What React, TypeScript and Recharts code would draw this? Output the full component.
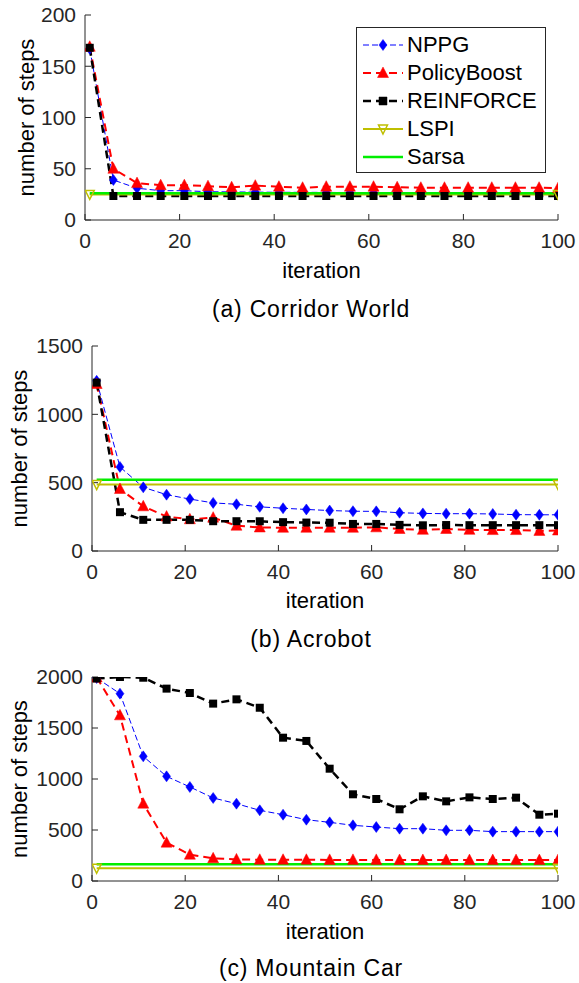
import React from 'react';
import { LineChart, Line, XAxis, YAxis, Legend } from 'recharts';

// iterations where the learners were evaluated
const iters = [1, 6, 11, 16, 21, 26, 31, 36, 41, 46, 51, 56, 61, 66, 71, 76, 81, 86, 91, 96, 100];
// LSPI / Sarsa are flat reference lines
const flatIters = [1, 100];
const xTicks = [0, 20, 40, 60, 80, 100];

// (a) Corridor World
const corridorNppg = [167, 39, 31, 28.6, 28.6, 27.6, 27.4, 27.2, 27, 27, 26.9, 26.8, 26.8, 26.7, 26.7, 26.7, 26.7, 26.6, 26.6, 26.6, 26.6];
const corridorBoost = [169, 50, 36, 34, 34, 33, 32, 33.5, 32.5, 31.5, 32.5, 32.5, 32.5, 32, 31.5, 31.5, 31.5, 31.5, 31.5, 31.5, 31];
const corridorReinforce = [168, 23.4, 23.4, 23.4, 23.4, 23.4, 23.4, 23.4, 23.4, 23.4, 23.4, 23.4, 23.4, 23.4, 23.4, 23.4, 23.4, 23.4, 23.4, 23.4, 23.4];
const corridorLspi = [25, 25];
const corridorSarsa = [26, 26];
const corridorTicks = [0, 50, 100, 150, 200];

// (b) Acrobot
const acrobotNppg = [1245, 615, 466, 412, 380, 352, 342, 323, 313, 304, 296, 291, 290, 280, 275, 273, 273, 271, 266, 265, 265];
const acrobotBoost = [1222, 454, 327, 252, 232, 244, 185, 172, 170, 170, 170, 170, 173, 161, 155, 161, 155, 153, 153, 147, 150];
const acrobotReinforce = [1232, 284, 228, 228, 228, 218, 218, 217, 211, 208, 207, 198, 198, 191, 188, 190, 189, 189, 189, 189, 189];
const acrobotLspi = [486, 486];
const acrobotSarsa = [522, 522];
const acrobotTicks = [0, 500, 1000, 1500];

// (c) Mountain Car
const carNppg = [1990, 1837, 1222, 1026, 922, 814, 758, 693, 650, 601, 575, 546, 529, 513, 513, 497, 497, 484, 484, 484, 484];
const carBoost = [1995, 1624, 758, 376, 258, 222, 212, 208, 208, 208, 207, 207, 207, 206, 206, 206, 205, 205, 205, 205, 205];
const carReinforce = [1985, 2000, 1993, 1886, 1843, 1739, 1781, 1699, 1405, 1373, 1101, 850, 804, 703, 830, 781, 820, 804, 817, 650, 660];
const carLspi = [125, 125];
const carSarsa = [165, 165];
const carTicks = [0, 500, 1000, 1500, 2000];

// no serif face is available in the sandbox, sizes tuned to the original text widths
const FONT = '"Liberation Sans", Arial, sans-serif';
const AXIS = '#262626';
const BLUE = '#0000ff';
const RED = '#ff0000';
const OLIVE = '#bfbf00';
const GREEN = '#00ee00';

type Row = { it: number; nppg: number; boost: number; reinforce: number };

const makeRows = (nppg: number[], boost: number[], reinforce: number[]): Row[] =>
  iters.map((it, i) => ({ it, nppg: nppg[i], boost: boost[i], reinforce: reinforce[i] }));

const flat = (vals: number[]) => flatIters.map((it, i) => ({ it, v: vals[i] }));

const diamond = (cx: number, cy: number) =>
  `M${cx},${cy - 5.5}L${cx + 4},${cy}L${cx},${cy + 5.5}L${cx - 4},${cy}Z`;
const triUp = (cx: number, cy: number) =>
  `M${cx},${cy - 6}L${cx + 5.5},${cy + 4.5}L${cx - 5.5},${cy + 4.5}Z`;
const triDown = (cx: number, cy: number) =>
  `M${cx},${cy + 5}L${cx + 4.5},${cy - 4}L${cx - 4.5},${cy - 4}Z`;
const square = (cx: number, cy: number) =>
  `M${cx - 4},${cy - 4}h8v8h-8Z`;

const nppgDot = (p: any) => <path key={`n${p.index}`} d={diamond(p.cx, p.cy)} fill={BLUE} stroke={BLUE} strokeWidth={0.5} />;
const boostDot = (p: any) => <path key={`b${p.index}`} d={triUp(p.cx, p.cy)} fill={RED} stroke={RED} strokeWidth={0.5} />;
const reinforceDot = (p: any) => <path key={`r${p.index}`} d={square(p.cx, p.cy)} fill="#000" />;
const lspiDot = (p: any) => <path key={`l${p.index}`} d={triDown(p.cx, p.cy)} fill="none" stroke={OLIVE} strokeWidth={1.5} />;

const legendItems = [
  { name: 'NPPG', color: BLUE, width: 1, dash: '6 3', marker: diamond },
  { name: 'PolicyBoost', color: RED, width: 2, dash: '8 5', marker: triUp },
  { name: 'REINFORCE', color: '#000', width: 2.5, dash: '8 5', marker: square },
  { name: 'LSPI', color: OLIVE, width: 2, dash: undefined, marker: triDown },
  { name: 'Sarsa', color: GREEN, width: 2.5, dash: undefined, marker: null },
];

const CorridorLegend = () => (
  <div
    style={{
      border: `1px solid ${AXIS}`,
      background: '#fff',
      width: 190,
      height: 146,
      boxSizing: 'border-box',
      paddingTop: 3,
    }}
  >
    {legendItems.map((item) => (
      <div key={item.name} style={{ display: 'flex', alignItems: 'center', height: 28 }}>
        <svg width={46} height={20} style={{ marginLeft: 4, flex: 'none' }}>
          <line x1={2} y1={10} x2={42} y2={10} stroke={item.color} strokeWidth={item.width} strokeDasharray={item.dash} />
          {item.marker && (
            <path
              d={item.marker(22, 10)}
              fill={item.name === 'LSPI' ? 'none' : item.color}
              stroke={item.color}
              strokeWidth={item.name === 'LSPI' ? 1.5 : 0.5}
            />
          )}
        </svg>
        <span style={{ fontFamily: FONT, fontSize: 22, lineHeight: '28px', color: '#000', whiteSpace: 'nowrap' }}>
          {item.name}
        </span>
      </div>
    ))}
  </div>
);

type PanelProps = {
  top: number;
  rows: Row[];
  lspi: number[];
  sarsa: number[];
  yMax: number;
  yTicks: number[];
  left: number;
  marginTop: number;
  marginBottom: number;
  axisH: number;
  yLabelX: number;
  caption: string;
  captionY: number;
  legend?: boolean;
};

const Panel = (p: PanelProps) => (
  <div style={{ position: 'absolute', left: 0, top: p.top, width: 579, height: 330 }}>
    <LineChart
      width={579}
      height={330}
      data={p.rows}
      margin={{ top: p.marginTop, right: 21, bottom: p.marginBottom, left: 0 }}
    >
      <XAxis
        dataKey="it"
        type="number"
        domain={[0, 100]}
        ticks={xTicks}
        interval={0}
        allowDataOverflow
        height={p.axisH}
        tickSize={-6}
        tickMargin={19}
        stroke={AXIS}
        tick={{ fontSize: 21, fill: AXIS, fontFamily: FONT }}
        label={{ value: 'iteration', position: 'insideBottom', offset: 0, fontSize: 22, fill: '#000', fontFamily: FONT }}
      />
      <XAxis
        xAxisId="top"
        orientation="top"
        dataKey="it"
        type="number"
        domain={[0, 100]}
        ticks={xTicks}
        interval={0}
        allowDataOverflow
        height={0}
        tickSize={-6}
        tick={false}
        stroke={AXIS}
      />
      <YAxis
        type="number"
        domain={[0, p.yMax]}
        ticks={p.yTicks}
        interval={0}
        allowDataOverflow
        width={p.left}
        tickSize={-6}
        tickMargin={15}
        stroke={AXIS}
        tick={{ fontSize: 21, fill: AXIS, fontFamily: FONT }}
        label={{
          value: 'number of steps',
          angle: -90,
          position: 'insideLeft',
          offset: p.yLabelX,
          fontSize: 22,
          fill: '#000',
          fontFamily: FONT,
          style: { textAnchor: 'middle' },
        }}
      />
      <YAxis
        yAxisId="right"
        orientation="right"
        type="number"
        domain={[0, p.yMax]}
        ticks={p.yTicks}
        interval={0}
        allowDataOverflow
        width={0}
        tickSize={-6}
        tick={false}
        stroke={AXIS}
      />
      <Line dataKey="nppg" stroke={BLUE} strokeWidth={1} strokeDasharray="6 3" dot={nppgDot} isAnimationActive={false} />
      <Line dataKey="boost" stroke={RED} strokeWidth={2} strokeDasharray="8 5" dot={boostDot} isAnimationActive={false} />
      <Line dataKey="reinforce" stroke="#000" strokeWidth={2.5} strokeDasharray="8 5" dot={reinforceDot} isAnimationActive={false} />
      <Line data={flat(p.lspi)} dataKey="v" stroke={OLIVE} strokeWidth={2} dot={lspiDot} isAnimationActive={false} />
      <Line data={flat(p.sarsa)} dataKey="v" stroke={GREEN} strokeWidth={2.5} dot={false} isAnimationActive={false} />
      {p.legend && (
        <Legend
          layout="vertical"
          align="center"
          verticalAlign="middle"
          content={() => <CorridorLegend />}
          wrapperStyle={{ left: 356, top: 27, width: 190 }}
        />
      )}
    </LineChart>
    <div
      style={{
        position: 'absolute',
        left: 311,
        top: p.captionY - 12,
        transform: 'translateX(-50%)',
        whiteSpace: 'nowrap',
        fontFamily: FONT,
        fontSize: 23,
        lineHeight: '24px',
        letterSpacing: 0.8,
        color: '#000',
      }}
    >
      {p.caption}
    </div>
  </div>
);

export default function App() {
  return (
    <div style={{ position: 'absolute', left: 0, top: 0, width: 579, height: 983, background: '#fff' }}>
      <Panel
        top={0}
        rows={makeRows(corridorNppg, corridorBoost, corridorReinforce)}
        lspi={corridorLspi}
        sarsa={corridorSarsa}
        yMax={200}
        yTicks={corridorTicks}
        left={85}
        marginTop={15}
        marginBottom={52}
        axisH={58}
        yLabelX={26}
        caption="(a) Corridor World"
        captionY={309}
        legend
      />
      <Panel
        top={330}
        rows={makeRows(acrobotNppg, acrobotBoost, acrobotReinforce)}
        lspi={acrobotLspi}
        sarsa={acrobotSarsa}
        yMax={1500}
        yTicks={acrobotTicks}
        left={92}
        marginTop={16}
        marginBottom={52}
        axisH={57}
        yLabelX={19}
        caption="(b) Acrobot"
        captionY={309}
      />
      <Panel
        top={660}
        rows={makeRows(carNppg, carBoost, carReinforce)}
        lspi={carLspi}
        sarsa={carSarsa}
        yMax={2000}
        yTicks={carTicks}
        left={92}
        marginTop={17}
        marginBottom={51}
        axisH={58}
        yLabelX={19}
        caption="(c) Mountain Car"
        captionY={308}
      />
    </div>
  );
}
